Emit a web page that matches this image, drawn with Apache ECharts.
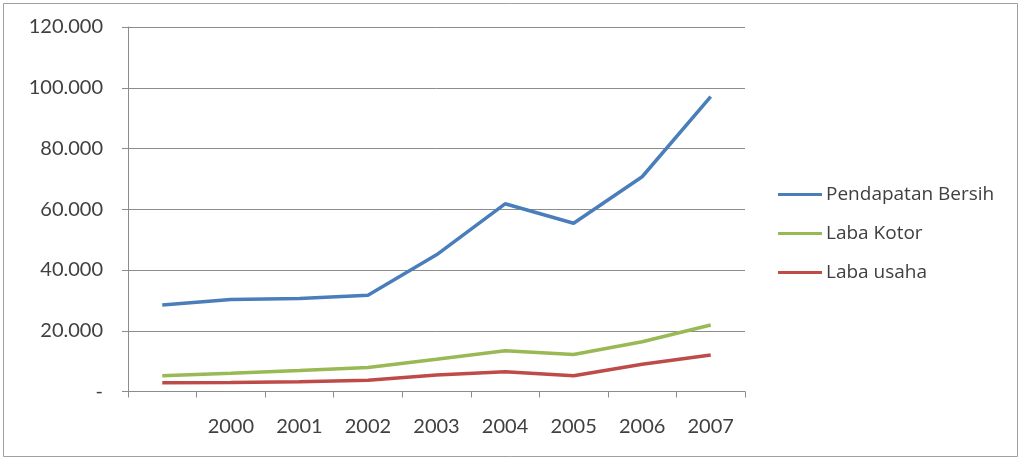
<!DOCTYPE html>
<html>
<head>
<meta charset="utf-8">
<script src="https://cdn.jsdelivr.net/npm/echarts@6/dist/echarts.min.js"></script>
<style>
html,body{margin:0;padding:0;background:#fff;}
#chart{width:1029px;height:460px;}
</style>
</head>
<body>
<div id="chart"></div>
<script>
var categories = ['', '2000', '2001', '2002', '2003', '2004', '2005', '2006', '2007'];
var pendapatanBersih = [28500, 30300, 30600, 31700, 45000, 61800, 55400, 70700, 97100];
var labaKotor = [5200, 6000, 6900, 7900, 10600, 13400, 12200, 16400, 21900];
var labaUsaha = [2900, 3000, 3200, 3700, 5400, 6500, 5200, 9000, 12000];
var yTickLabels = ['-', '20.000', '40.000', '60.000', '80.000', '100.000', '120.000'];

var FONT = 'Lato';
var TXT = '#404040';
var chart = echarts.init(document.getElementById('chart'), null, {renderer: 'canvas'});
chart.setOption({
  animation: false,
  backgroundColor: '#ffffff',
  graphic: [{
    type: 'rect',
    shape: {x: 3.5, y: 3.5, width: 1014, height: 453},
    style: {fill: 'none', stroke: '#a0a0a0', lineWidth: 1},
    silent: true
  }],
  grid: {left: 128, right: 284, top: 27, bottom: 68.5, containLabel: false},
  legend: {
    orient: 'vertical',
    left: 778,
    top: 185,
    padding: 0,
    itemWidth: 44,
    itemHeight: 3,
    itemGap: 20,
    icon: 'rect',
    textStyle: {fontFamily: 'Open Sans', fontSize: 19, color: TXT, padding: [0, 0, 0, -1]},
    data: ['Pendapatan Bersih', 'Laba Kotor', 'Laba usaha']
  },
  xAxis: {
    type: 'category',
    data: categories,
    boundaryGap: true,
    axisLine: {lineStyle: {color: '#8c8c8c', width: 1}},
    axisTick: {show: true, length: 6, lineStyle: {color: '#8c8c8c'}},
    axisLabel: {fontFamily: FONT, fontSize: 20, color: TXT, margin: 25}
  },
  yAxis: {
    type: 'value',
    min: 0,
    max: 120000,
    interval: 20000,
    axisLine: {show: true, lineStyle: {color: '#8c8c8c', width: 1}},
    axisTick: {show: true, length: 6, lineStyle: {color: '#8c8c8c'}},
    splitLine: {lineStyle: {color: '#8c8c8c', width: 1}},
    axisLabel: {
      fontFamily: FONT, fontSize: 20, color: TXT, margin: 25,
      formatter: function (v) { return yTickLabels[Math.round(v / 20000)]; }
    }
  },
  series: [
    {name: 'Pendapatan Bersih', type: 'line', data: pendapatanBersih, symbol: 'none',
     lineStyle: {color: '#4a7ebb', width: 3.5}, itemStyle: {color: '#4a7ebb'}},
    {name: 'Laba Kotor', type: 'line', data: labaKotor, symbol: 'none',
     lineStyle: {color: '#98b954', width: 3.5}, itemStyle: {color: '#98b954'}},
    {name: 'Laba usaha', type: 'line', data: labaUsaha, symbol: 'none',
     lineStyle: {color: '#be4b48', width: 3.5}, itemStyle: {color: '#be4b48'}}
  ]
});
</script>
</body>
</html>
